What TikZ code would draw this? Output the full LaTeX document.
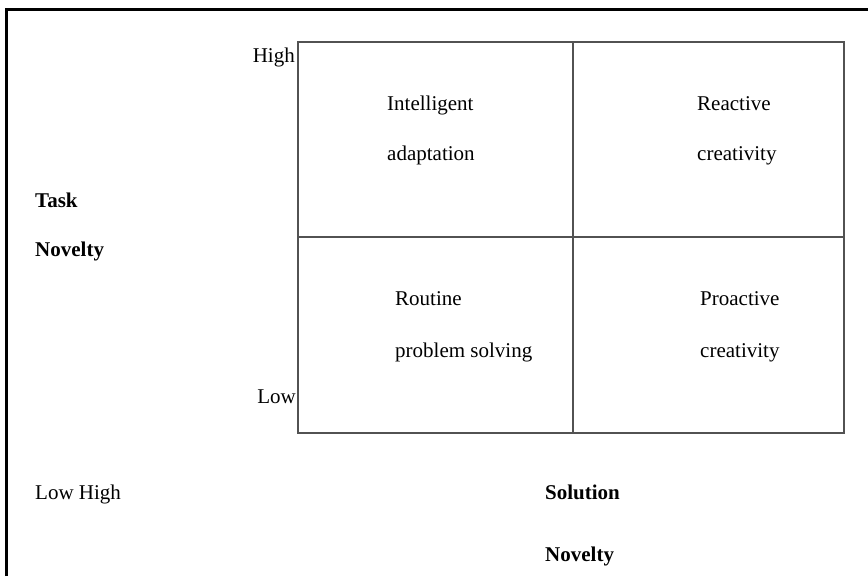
\documentclass[tikz,border=0pt]{standalone}
\usepackage{fontspec}
\setmainfont{Liberation Serif}
\begin{document}
\begin{tikzpicture}[x=1pt,y=-1pt,
  lbl/.style={inner sep=0pt,font=\fontsize{21}{25}\selectfont},
  boldlbl/.style={lbl,font=\fontsize{21}{25}\selectfont\bfseries},
  gridline/.style={draw=black!68,line width=2pt},
  frame/.style={draw=black,line width=3pt}]
  \useasboundingbox (0,0) rectangle (868,576);
  % outer frame (open towards the right and bottom)
  \draw[frame] (6,576) -- (6,9) -- (868,9);
  % 2x2 matrix
  \coordinate (tl) at (298,42);
  \coordinate (br) at (844,433);
  \draw[gridline] (tl) rectangle (br);
  \draw[gridline] (573,42) -- (573,433);
  \draw[gridline] (298,237) -- (844,237);
  % axis end labels
  \node[lbl,anchor=base east] (high) at (295,62) {High};
  \node[lbl,anchor=base east] (low) at (296,403) {Low};
  \node[lbl,anchor=base west] (lowhigh) at (35,499) {Low High};
  % axis titles
  \node[boldlbl,anchor=base west] (task) at (35,207) {Task};
  \node[boldlbl,anchor=base west] (novy) at (35,256) {Novelty};
  \node[boldlbl,anchor=base west] (sol) at (545,499) {Solution};
  \node[boldlbl,anchor=base west] (novx) at (545,561) {Novelty};
  % quadrant labels
  \node[lbl,anchor=base west] (q1a) at (387,110) {Intelligent};
  \node[lbl,anchor=base west] (q1b) at (387,160) {adaptation};
  \node[lbl,anchor=base west] (q2a) at (697,110) {Reactive};
  \node[lbl,anchor=base west] (q2b) at (697,160) {creativity};
  \node[lbl,anchor=base west] (q3a) at (395,305) {Routine};
  \node[lbl,anchor=base west] (q3b) at (395,357) {problem solving};
  \node[lbl,anchor=base west] (q4a) at (700,305) {Proactive};
  \node[lbl,anchor=base west] (q4b) at (700,357) {creativity};
\end{tikzpicture}
\end{document}
